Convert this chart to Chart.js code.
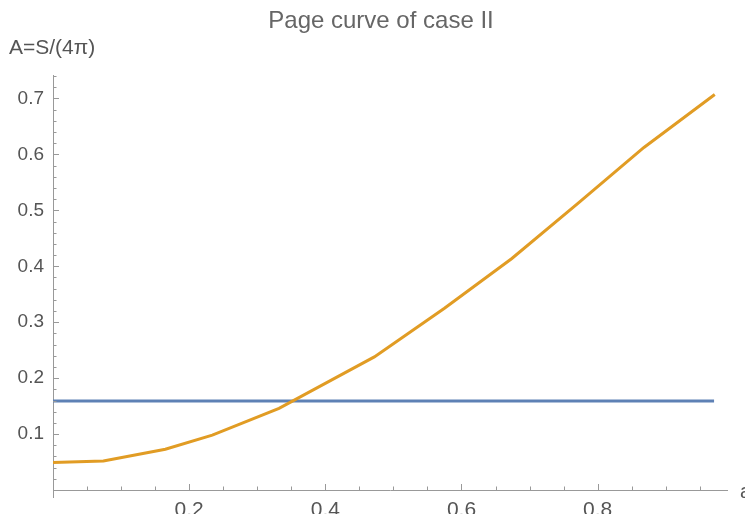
<!DOCTYPE html>
<html>
<head>
<meta charset="utf-8">
<title>Page curve of case II</title>
<script src="https://cdn.jsdelivr.net/npm/chart.js@4"></script>
<style>
  html, body { margin: 0; padding: 0; background: #fff; }
  #chart { display: block; }
</style>
</head>
<body>
<canvas id="chart" width="745" height="514"></canvas>
<script>
// Page curve (orange) and constant level (blue)
const curveX = [0, 0.074, 0.165, 0.234, 0.332, 0.472, 0.575, 0.674, 0.771, 0.868, 0.972];
const curveY = [0.049, 0.052, 0.073, 0.098, 0.146, 0.238, 0.325, 0.414, 0.5125, 0.6125, 0.707];
const levelX = [0, 0.971];
const levelY = [0.159, 0.159];

const titleText = 'Page curve of case II';
const yAxisLabel = 'A=S/(4\u03C0)';

const xMajor = 0.2, xMinor = 0.05;
const yMajor = 0.1, yMinor = 0.02;

const FONT = 'Liberation Sans, Arial, Helvetica, sans-serif';
const AXIS_COLOR = '#999999';
const TEXT_COLOR = '#555555';

function isMultiple(v, step) {
    const r = Math.round(v / step);
    return Math.abs(v - r * step) < 1e-6;
}

// Mathematica-style inward tick marks plus the labels above the plot
const frameDecor = {
    id: 'frameDecor',
    afterDraw(chart) {
        const ctx = chart.ctx;
        const xs = chart.scales.x;
        const ys = chart.scales.y;
        const area = chart.chartArea;
        ctx.save();
        ctx.strokeStyle = AXIS_COLOR;
        ctx.lineWidth = 1;
        ctx.beginPath();
        xs.ticks.forEach(function(t) {
            if (t.value === 0) return;
            const px = Math.round(xs.getPixelForValue(t.value)) + 0.5;
            const len = isMultiple(t.value, xMajor) ? 6 : 3.5;
            ctx.moveTo(px, area.bottom);
            ctx.lineTo(px, area.bottom - len);
        });
        ys.ticks.forEach(function(t) {
            if (t.value === 0) return;
            const py = Math.round(ys.getPixelForValue(t.value)) + 0.5;
            const len = isMultiple(t.value, yMajor) ? 6 : 3.5;
            ctx.moveTo(area.left, py);
            ctx.lineTo(area.left + len, py);
        });
        // y axis pokes a little below the x axis
        ctx.moveTo(area.left + 0.5, area.bottom);
        ctx.lineTo(area.left + 0.5, area.bottom + 8);
        ctx.stroke();

        ctx.fillStyle = '#666666';
        ctx.font = '24px ' + FONT;
        ctx.textAlign = 'center';
        ctx.textBaseline = 'middle';
        ctx.fillText(titleText, 381, 21);

        ctx.fillStyle = TEXT_COLOR;
        ctx.font = '21px ' + FONT;
        ctx.textAlign = 'left';
        ctx.fillText(yAxisLabel, 9, 48);

        ctx.font = '20px ' + FONT;
        ctx.fillText('a', 740, 492);
        ctx.restore();
    }
};

const ctx = document.getElementById('chart');
new Chart(ctx, {
    type: 'line',
    data: {
        datasets: [{
            label: 'page curve',
            data: curveX.map(function(x, i) { return { x: x, y: curveY[i] }; }),
            borderColor: '#E19C24',
            borderWidth: 3,
            pointRadius: 0,
            tension: 0,
            fill: false
        }, {
            label: 'level',
            data: levelX.map(function(x, i) { return { x: x, y: levelY[i] }; }),
            borderColor: '#5E81B5',
            borderWidth: 3,
            pointRadius: 0,
            tension: 0,
            fill: false
        }]
    },
    options: {
        responsive: false,
        animation: false,
        layout: { padding: { top: 75, right: 18, left: 0, bottom: 0 } },
        plugins: {
            legend: { display: false },
            title: { display: false },
            tooltip: { enabled: false }
        },
        scales: {
            x: {
                type: 'linear',
                min: 0,
                max: 0.99,
                grid: { display: false, drawTicks: false, tickLength: 0 },
                border: { display: true, color: AXIS_COLOR, width: 1 },
                ticks: {
                    stepSize: xMinor,
                    includeBounds: false,
                    autoSkip: false,
                    maxRotation: 0,
                    padding: 8,
                    color: TEXT_COLOR,
                    font: { family: FONT, size: 21 },
                    callback: function(v) {
                        return (v !== 0 && isMultiple(v, xMajor)) ? v.toFixed(1) : '';
                    }
                },
                afterFit: function(scale) { scale.height = 24; }
            },
            y: {
                type: 'linear',
                min: 0,
                max: 0.742,
                grid: { display: false, drawTicks: false, tickLength: 0 },
                border: { display: true, color: AXIS_COLOR, width: 1 },
                ticks: {
                    stepSize: yMinor,
                    includeBounds: false,
                    autoSkip: false,
                    padding: 9,
                    color: TEXT_COLOR,
                    font: { family: FONT, size: 19 },
                    callback: function(v) {
                        return (v !== 0 && isMultiple(v, yMajor)) ? v.toFixed(1) : '';
                    }
                },
                afterFit: function(scale) { scale.width = 53; }
            }
        }
    },
    plugins: [frameDecor]
});
</script>
</body>
</html>
